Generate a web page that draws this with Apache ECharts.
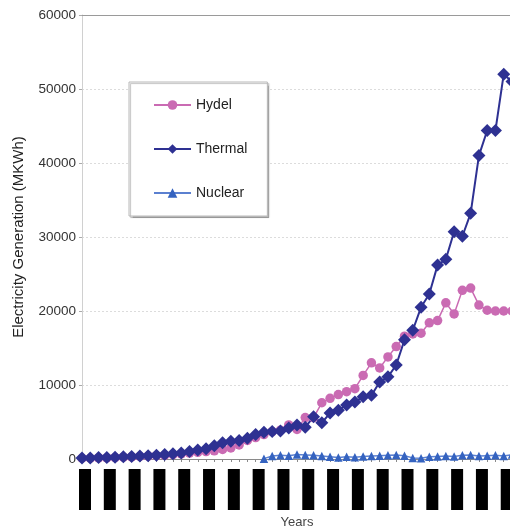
<!DOCTYPE html>
<html>
<head>
<meta charset="utf-8">
<script src="https://cdn.jsdelivr.net/npm/echarts@6/dist/echarts.min.js"></script>
<style>html,body{margin:0;padding:0;background:#fff}#c{width:510px;height:531px}</style>
</head>
<body>
<div id="c"></div>
<script>
// Years (labels are redacted in the reference, drawn as black blocks)
const years = [];
for (let y = 1950; y <= 2002; y++) years.push(String(y));

const hydel = [100,100,150,150,200,250,300,350,400,450,500,600,700,800,900,1000,1100,1300,1500,1900,2500,2900,3300,3700,3900,4600,4000,5600,5600,7600,8200,8700,9100,9500,11300,13000,12300,13800,15200,16600,16900,17000,18400,18700,21100,19600,22800,23100,20800,20100,20000,20000,20000];
const thermal = [150,150,200,200,250,300,350,400,450,500,600,700,800,1000,1200,1400,1800,2200,2400,2500,2800,3300,3600,3700,3800,4200,4600,4300,5700,4900,6200,6600,7300,7700,8400,8600,10400,11100,12700,16100,17400,20500,22300,26200,27000,30700,30100,33200,41000,44400,44400,52000,51000];
const nuclear = [null,null,null,null,null,null,null,null,null,null,null,null,null,null,null,null,null,null,null,null,null,null,50,400,500,450,600,550,500,400,300,200,300,250,350,400,450,500,550,450,150,100,300,350,400,350,500,550,400,450,500,400,600];
const yTicks = [0,10000,20000,30000,40000,50000,60000];

const chart = echarts.init(document.getElementById('c'), null, {renderer:'canvas'});
chart.setOption({
  animation: false,
  backgroundColor: '#fff',
  textStyle: {fontFamily: 'Liberation Sans, Arial, sans-serif'},
  grid: {left: 82, right: -2, top: 15, bottom: 72, containLabel: false, outerBoundsMode: 'none'},
  legend: {
    orient: 'vertical',
    left: 129, top: 82,
    padding: [16, 20, 16, 24],
    itemGap: 30,
    itemWidth: 37, itemHeight: 12,
    backgroundColor: '#fff',
    borderColor: '#b8b8b8', borderWidth: 1, borderRadius: 0,
    shadowColor: 'rgba(0,0,0,0.25)', shadowBlur: 1, shadowOffsetX: 1.5, shadowOffsetY: 1.5,
    textStyle: {fontSize: 14, color: '#222'},
    data: ['Hydel','Thermal','Nuclear']
  },
  xAxis: [{
    type: 'category', data: years, boundaryGap: false,
    name: 'Years', nameLocation: 'middle', nameGap: 57,
    nameTextStyle: {fontSize: 13, color: '#444'},
    axisLine: {lineStyle: {color: '#8a8a8a', width: 1}},
    axisTick: {show: true, interval: 0, length: 3, inside: false, lineStyle: {color: '#8a8a8a'}},
    axisLabel: {
      interval: 2, margin: 10,
      formatter: function(){ return '{s|}{a|}'; },
      rich: {
        s: {width: 6, height: 41},
        a: {width: 12, height: 41, backgroundColor: '#000'}
      }
    },
    splitLine: {show: false}
  }, {
    type: 'category', data: years, boundaryGap: false, position: 'top',
    axisLine: {show: true, lineStyle: {color: '#9a9a9a', width: 1}},
    axisTick: {show: false}, axisLabel: {show: false}
  }],
  yAxis: {
    type: 'value', min: 0, max: 60000, interval: 10000,
    name: 'Electricity Generation (MKWh)', nameLocation: 'middle', nameGap: 56,
    nameTextStyle: {fontSize: 15, color: '#222'},
    axisLine: {show: true, lineStyle: {color: '#d0d0d0'}},
    axisTick: {show: true, length: 3, lineStyle: {color: '#aaa'}},
    axisLabel: {fontSize: 13.5, color: '#333', margin: 6,
      formatter: function(v){ return yTicks.indexOf(v) >= 0 ? String(v) : ''; }},
    splitLine: {show: true, lineStyle: {color: '#dcdcdc', type: [2,2], width: 1}}
  },
  series: [{
    name: 'Hydel', type: 'line', data: hydel,
    symbol: 'circle', symbolSize: 9.5, showAllSymbol: true,
    itemStyle: {color: '#CA6BB3'},
    lineStyle: {color: '#CA6BB3', width: 1.5}
  }, {
    name: 'Thermal', type: 'line', data: thermal,
    symbol: 'diamond', symbolSize: 13, showAllSymbol: true,
    itemStyle: {color: '#2E3192'},
    lineStyle: {color: '#2E3192', width: 2}
  }, {
    name: 'Nuclear', type: 'line', data: nuclear,
    symbol: 'triangle', symbolSize: 8.5, showAllSymbol: true,
    itemStyle: {color: '#3563C0'},
    lineStyle: {color: '#5B80D0', width: 1.5}
  }]
});
</script>
</body>
</html>
